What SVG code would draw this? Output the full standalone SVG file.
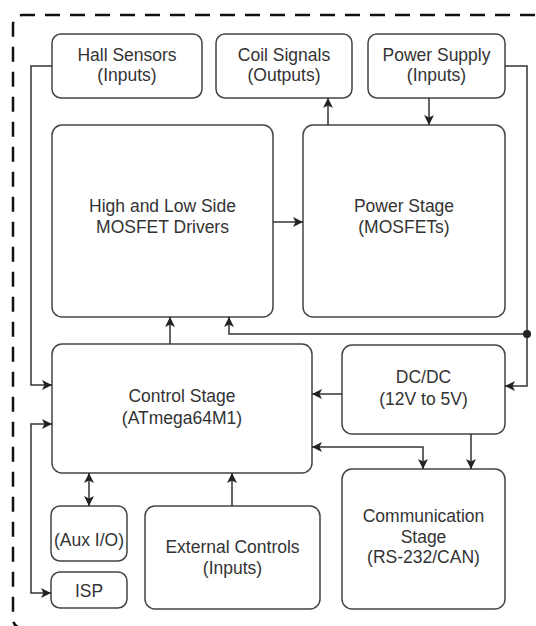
<svg xmlns="http://www.w3.org/2000/svg" width="536" height="626" viewBox="0 0 536 626">
<style>
.box{fill:#fff;stroke:#444;stroke-width:1.5}
.t{font-family:"Liberation Sans",Arial,sans-serif;font-size:17.5px;fill:#333;text-anchor:middle}
.c{fill:none;stroke:#333;stroke-width:1.5}
</style>
<defs>
<marker id="ah" viewBox="0 0 10 10" refX="10" refY="5" markerWidth="10" markerHeight="10" markerUnits="userSpaceOnUse" orient="auto-start-reverse">
<path d="M0,0 L10,5 L0,10 L2.5,5 Z" fill="#222"/>
</marker>
</defs>
<rect width="536" height="626" fill="#fff"/>
<path d="M560,15 L23,15 Q13,15 13,25 L13,618 Q13,628 23,628 L560,628" fill="none" stroke="#111" stroke-width="2.5" stroke-dasharray="15 10"/>

<g id="hall"><rect class="box" x="52" y="34" width="150" height="64" rx="9"/><text class="t" x="127" y="61">Hall Sensors</text><text class="t" x="127" y="81">(Inputs)</text></g>
<g id="coil"><rect class="box" x="216" y="34" width="136" height="64" rx="9"/><text class="t" x="284" y="61">Coil Signals</text><text class="t" x="284" y="81">(Outputs)</text></g>
<g id="psu"><rect class="box" x="368" y="34" width="137" height="64" rx="9"/><text class="t" x="436.5" y="61">Power Supply</text><text class="t" x="436.5" y="81">(Inputs)</text></g>
<g id="drivers"><rect class="box" x="52" y="125" width="221" height="192" rx="10"/><text class="t" x="162.5" y="212">High and Low Side</text><text class="t" x="162.5" y="233">MOSFET Drivers</text></g>
<g id="power"><rect class="box" x="303" y="125" width="202" height="192" rx="10"/><text class="t" x="404" y="212">Power Stage</text><text class="t" x="404" y="233">(MOSFETs)</text></g>
<g id="control"><rect class="box" x="52" y="344" width="260" height="129" rx="10"/><text class="t" x="182" y="402">Control Stage</text><text class="t" x="182" y="424">(ATmega64M1)</text></g>
<g id="dcdc"><rect class="box" x="342" y="345" width="163" height="89" rx="10"/><text class="t" x="423.5" y="383">DC/DC</text><text class="t" x="423.5" y="405">(12V to 5V)</text></g>
<g id="comm"><rect class="box" x="342" y="469" width="163" height="140" rx="10"/><text class="t" x="423.5" y="522">Communication</text><text class="t" x="423.5" y="543">Stage</text><text class="t" x="423.5" y="563">(RS-232/CAN)</text></g>
<g id="aux"><rect class="box" x="51" y="506" width="76" height="55" rx="9"/><text class="t" x="89" y="546">(Aux I/O)</text></g>
<g id="isp"><rect class="box" x="51" y="572" width="76" height="36" rx="9"/><text class="t" x="89" y="597">ISP</text></g>
<g id="ext"><rect class="box" x="145" y="506" width="175" height="103" rx="10"/><text class="t" x="232.5" y="553">External Controls</text><text class="t" x="232.5" y="574">(Inputs)</text></g>

<g id="connectors">
<path class="c" d="M52,66 H31 V385 H52" marker-end="url(#ah)"/>
<path class="c" d="M52,424 H31 V593 H51" marker-start="url(#ah)" marker-end="url(#ah)"/>
<path class="c" d="M89,473 V506" marker-start="url(#ah)" marker-end="url(#ah)"/>
<path class="c" d="M232,506 V473" marker-end="url(#ah)"/>
<path class="c" d="M170,344 V317" marker-end="url(#ah)"/>
<path class="c" d="M527,334 H229 V317" marker-end="url(#ah)"/>
<path class="c" d="M505,66 H527 V386 H505" marker-end="url(#ah)"/>
<circle cx="527" cy="334" r="4" fill="#222"/>
<path class="c" d="M429,98 V125" marker-end="url(#ah)"/>
<path class="c" d="M328,125 V98" marker-end="url(#ah)"/>
<path class="c" d="M273,222 H303" marker-end="url(#ah)"/>
<path class="c" d="M342,394 H312" marker-end="url(#ah)"/>
<path class="c" d="M312,447 H423 V469" marker-start="url(#ah)" marker-end="url(#ah)"/>
<path class="c" d="M471,434 V469" marker-end="url(#ah)"/>
</g>
</svg>
